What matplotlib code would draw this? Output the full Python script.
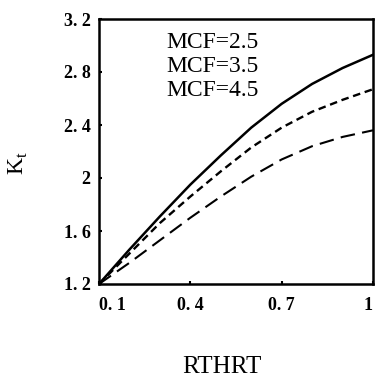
import matplotlib
matplotlib.use('Agg')
import matplotlib.pyplot as plt

# RTHRT values and Kt curves for three MCF values
rthrt = [0.1, 0.2, 0.3, 0.4, 0.5, 0.6, 0.7, 0.8, 0.9, 1.0]
kt_mcf25 = [1.2, 1.46, 1.71, 1.95, 2.17, 2.38, 2.56, 2.71, 2.83, 2.93]
kt_mcf35 = [1.2, 1.43, 1.66, 1.86, 2.05, 2.23, 2.38, 2.50, 2.59, 2.67]
kt_mcf45 = [1.2, 1.36, 1.53, 1.70, 1.86, 2.01, 2.14, 2.24, 2.31, 2.36]

legend_labels = ['MCF=2.5', 'MCF=3.5', 'MCF=4.5']
xticks = [0.1, 0.4, 0.7, 1.0]
xtick_labels = ['0. 1', '0. 4', '0. 7', '1']
yticks = [1.2, 1.6, 2.0, 2.4, 2.8, 3.2]
ytick_labels = ['1. 2', '1. 6', '2', '2. 4', '2. 8', '3. 2']

plt.rcParams['font.family'] = ['Liberation Serif', 'DejaVu Serif']

fig = plt.figure(figsize=(3.75, 3.77), dpi=100)
ax = fig.add_axes([99 / 375, 1 - 284 / 377, 274 / 375, 265 / 377])

ax.plot(rthrt, kt_mcf25, color='black', lw=1.8, linestyle='-')
ax.plot(rthrt, kt_mcf35, color='black', lw=1.7, linestyle=(0, (3.2, 2.0)))
ax.plot(rthrt, kt_mcf45, color='black', lw=1.5, linestyle=(0, (7, 3.5)))

ax.set_xlim(0.1, 1.0)
ax.set_ylim(1.2, 3.2)

ax.set_xticks(xticks)
ax.set_xticklabels(xtick_labels, fontsize=13, fontweight='bold')
ax.set_yticks(yticks)
ax.set_yticklabels(ytick_labels, fontsize=13, fontweight='bold')
ax.get_xticklabels()[0].set_horizontalalignment('left')
ax.get_xticklabels()[-1].set_horizontalalignment('right')
ax.tick_params(direction='in', length=2.5, width=1.5, pad=9)
ax.tick_params(axis='y', pad=6)

for s in ax.spines.values():
    s.set_linewidth(1.8)

ys = [43, 67, 90]
for lab, y in zip(legend_labels, ys):
    fig.text(166 / 375, 1 - y / 377, lab, fontsize=17, va='center', ha='left')

fig.text(222 / 375, 1 - 367 / 377, 'RTHRT', fontsize=18, ha='center', va='center')
fig.text(18 / 375, 1 - 163 / 377, r'K$_\mathregular{t}$', fontsize=17,
         rotation=90, ha='center', va='center')

fig.savefig('out.png', dpi=100)
